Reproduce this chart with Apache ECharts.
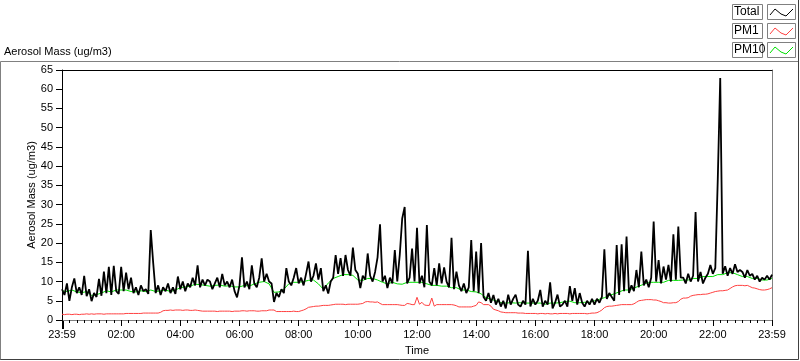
<!DOCTYPE html>
<html><head><meta charset="utf-8">
<script src="https://cdn.jsdelivr.net/npm/echarts@6/dist/echarts.min.js"></script>
<style>html,body{margin:0;padding:0;background:#fff}#c{width:800px;height:361px}</style>
</head><body><div id="c"></div>
<script>
// ---- data ----
const seriesNames = ['Total', 'PM1', 'PM10'];
const yTicks = [0,5,10,15,20,25,30,35,40,45,50,55,60,65];
const xTickLabels = ['23:59','02:00','04:00','06:00','08:00','10:00','12:00','14:00','16:00','18:00','20:00','22:00','23:59'];
const totalStepMin = 5;   // minutes between Total samples
const pm1StepMin = 5;     // minutes between PM1 samples
const pm10StepMin = 10;   // minutes between PM10 samples

const totalMass = [
 8,6.5,9.5,5,8.5,10.8,7,8.5,6.5,11.5,6.2,8,
 4.9,7,6,10.7,6.3,12.6,7,13.8,6.5,14.1,7.5,6.8,
 13.8,7.5,12.3,8,11,7,8.5,6.5,9,7.5,8,6.8,
 23.4,14.8,7,9,6.5,8.5,7.5,9.5,7,8.5,6.8,11.3,
 8,10,7.5,9.5,8.5,11,9,14.2,8.5,10.5,9,10.5,
 10,8,9.5,11,8.5,12,9,10,8.5,10.5,7.5,5.9,
 9,16.3,8.5,10,8,14.2,9.5,8.5,11,16,10,12,
 10,9.5,4.7,7,6,8,7,13.5,10,9,11,13.5,
 9.5,11,9,12,15.2,10,11.5,14.7,10.5,13.5,7.5,9,
 6.9,10,11,16.9,12,16.1,11.5,16.9,13,11.5,18.8,13,
 12,8.3,11.5,10.5,17.3,11.5,10,12.5,16.3,24.9,10,11.5,
 8.3,11,9.5,18.2,10,16.9,26.4,29.4,9.5,11,18.6,10,
 24,9.5,11.5,8.5,24.7,10,9,13.5,9,14.7,9.5,13.7,
 10,8.5,21.4,8,12.6,9,7.5,9.5,7,8.5,20.8,7.5,
 17.8,7,20,6,5,7,4.5,6.5,4,5.5,3.5,5,
 3,6.6,4,5.5,6.6,4,3.5,5,4,18,3.5,5.5,
 4,5,7.8,3.5,5,4,9.8,3,4.5,6.6,3.5,4,
 5,3.5,8.8,5,8.3,4,7,4.5,3.5,5,4,5.5,
 4,5.5,4.5,6,18.4,5.5,7,6,5,19.5,6.5,19.7,
 7.5,21.7,7,9,7.5,13,8.5,17.8,9,10.5,8.5,11,
 25.6,10,15.6,9.5,13.9,10.5,14.3,10,22.3,10.5,24.3,11,
 11,9.5,12,10,11.5,28.1,10,12.5,9.5,11,12,14.3,
 12,13.5,36.5,62.9,12,14,11.5,13.5,12,14.5,12.5,13,
 12.5,11,13,11.5,12,10.5,11.5,10,11,10.5,11.5,10.5,
 11.8
];

const pm1Mass = [
 1.5,1.4,1.5,1.5,1.4,1.5,1.5,1.4,1.5,1.5,1.6,1.5,
 1.6,1.5,1.6,1.6,1.6,1.5,1.6,1.6,1.6,1.6,1.6,1.6,
 1.6,1.6,1.7,1.7,1.7,1.7,1.7,1.7,1.7,1.8,1.8,1.8,
 1.8,1.8,1.8,1.8,2.0,2.4,2.5,2.5,2.6,2.5,2.6,2.6,
 2.6,2.5,2.6,2.6,2.5,2.5,2.6,2.5,2.4,2.3,2.3,2.3,
 2.3,2.3,2.3,2.2,2.3,2.3,2.3,2.3,2.3,2.2,2.3,2.3,
 2.3,2.4,2.4,2.3,2.4,2.4,2.4,2.3,2.3,2.4,2.4,2.4,
 2.6,2.6,2.6,2.2,2.2,2.2,2.2,2.2,2.2,2.2,2.3,2.2,
 2.2,2.4,2.6,2.9,3.3,3.4,3.5,3.6,3.6,3.7,3.8,3.8,
 3.8,3.9,4.0,4.1,4.1,4.1,4.1,4.0,4.1,4.1,4.1,4.1,
 4.1,4.2,4.3,4.7,4.8,4.7,4.7,4.6,4.7,4.3,4.0,4.0,
 4.0,4.0,4.0,4.0,4.0,3.9,3.8,3.8,4.3,4.2,4.0,4.0,
 5.9,4.1,4.6,3.9,3.8,3.8,5.7,3.6,4.0,4.0,4.0,4.0,
 4.0,4.0,4.0,3.9,3.7,3.4,3.4,3.4,3.4,3.4,3.4,3.6,
 3.8,4.7,4.5,4.0,4.0,4.0,3.6,2.8,2.6,2.4,2.1,2.0,
 1.9,1.9,1.9,1.9,1.9,1.8,1.8,1.8,1.7,1.7,1.7,1.7,
 1.7,1.6,1.7,1.7,1.6,1.7,1.6,1.6,1.7,1.6,1.7,1.7,
 1.7,1.7,1.6,1.7,1.7,1.7,1.7,1.7,1.7,1.6,1.7,1.8,
 1.8,1.9,2.2,2.6,3.2,3.5,3.6,3.6,3.7,3.8,3.9,4.0,
 4.0,4.0,4.0,4.0,4.2,4.6,5.0,5.1,5.2,5.3,5.3,5.3,
 5.2,5.2,5.0,4.8,4.5,4.5,4.4,4.4,4.5,4.5,4.8,5.4,
 5.7,5.7,5.8,6.2,6.4,6.5,6.6,6.6,6.7,6.7,6.8,7.0,
 7.2,7.4,7.5,7.6,7.6,7.7,7.8,8.2,8.6,8.9,9.0,9.0,
 9.0,8.9,9.0,8.7,8.4,8.3,8.1,7.9,7.8,7.8,7.9,8.1,
 8.4
];

const pm10Mass = [
 7.6,7.4,7.8,7.3,7.1,7.4,
 6.4,6.6,7,7.6,7.3,7.8,
 7.8,7.8,7.4,7.3,7.6,7.4,
 7.8,7.4,7.6,7.8,7.4,7.8,
 8.4,8.6,8.8,9.3,9.2,9,
 8.8,9,9.1,8.8,8.9,8.6,
 8.6,9,8.8,9.4,9.8,10,
 9.4,7.2,7.3,8,9.4,9.8,
 9.8,10,10.3,10.4,9.4,8,
 9.6,10.8,11.3,11.8,11.8,11.6,
 10.4,10.3,10.8,10.8,10.4,9.8,
 9.4,9.8,9.4,9.3,9.8,9.8,
 9.8,9.8,9.4,9,9,8.8,
 8.8,8.4,8.4,7.8,7.8,7.4,
 7.3,6.8,5.8,5.4,5,4.5,
 4.4,4.5,4.4,4.5,4.4,4.4,
 4.4,4.4,4.1,4.4,4.4,4.5,
 4.8,4.9,4.5,4.5,4.6,4.6,
 5,5.4,5.8,6.4,6.8,7.3,
 7.8,7.8,8.3,8.8,9.3,9.8,
 9.8,9.8,9.8,10.3,10.3,10.3,
 10.4,10.4,10.8,10.8,11.3,11.3,
 11.3,11.8,11.8,12.3,12.3,11.8,
 11.3,11.3,10.8,10.8,10.4,10.4,
 10.8
];

// ---- chart ----
const FONT = 'Liberation Sans';
const toPairs = (arr, step) => arr.map((v, i) => [i * step, v]);
const colors = { Total: '#000000', PM1: '#ff4040', PM10: '#00e000' };

const chart = echarts.init(document.getElementById('c'), null, { renderer: 'canvas' });

function legendRow(i, name, color) {
  const y = 4 + i * 19;
  return [
    { type: 'rect', shape: { x: 732.5, y: y + 0.5, width: 30, height: 15 },
      style: { fill: '#fff', stroke: '#808080', lineWidth: 1 } },
    { type: 'text', x: 734, y: y + 8, style: { text: name, font: '12px ' + FONT, fill: '#000', verticalAlign: 'middle' } },
    { type: 'rect', shape: { x: 767.5, y: y + 0.5, width: 28, height: 15 },
      style: { fill: '#fff', stroke: '#808080', lineWidth: 1 } },
    { type: 'polyline', shape: { points: [[770, y + 11], [775, y + 5], [781, y + 10], [786, y + 12], [793, y + 5]] },
      style: { stroke: color, lineWidth: 1, fill: null } }
  ];
}

const graphics = [
  { type: 'polyline', shape: { points: [[0.5, 360], [0.5, 61.5], [798.5, 61.5]] }, style: { stroke: '#808080', lineWidth: 1, fill: null } },
  { type: 'polyline', shape: { points: [[798.5, 0], [798.5, 359.5], [0.5, 359.5]] }, style: { stroke: '#404040', lineWidth: 1, fill: null } },
  { type: 'rect', shape: { x: 62, y: 321, width: 2, height: 8 }, style: { fill: '#000' } },
  { type: 'text', x: 4, y: 52, style: { text: 'Aerosol Mass (ug/m3)', font: '11px ' + FONT, fill: '#000', verticalAlign: 'middle' } }
].concat(legendRow(0, seriesNames[0], colors.Total), legendRow(1, seriesNames[1], colors.PM1), legendRow(2, seriesNames[2], colors.PM10));

chart.setOption({
  animation: false,
  backgroundColor: '#fff',
  textStyle: { fontFamily: FONT },
  grid: { left: 62, right: 28, top: 70, bottom: 39, containLabel: false },
  graphic: graphics,
  xAxis: [{
    type: 'value', min: 0, max: 1440, interval: 120,
    name: 'Time', nameLocation: 'middle', nameGap: 25, nameMoveOverlap: false,
    nameTextStyle: { fontSize: 11, color: '#000', fontFamily: FONT },
    axisLine: { lineStyle: { color: '#808080', width: 1 } },
    axisTick: { show: true, length: 6, lineStyle: { color: '#000' } },
    minorTick: { show: true, splitNumber: 8, length: 3, lineStyle: { color: '#000' } },
    axisLabel: { margin: 9, fontSize: 11, color: '#000', fontFamily: FONT,
      formatter: v => xTickLabels[Math.round(v / 120)] },
    splitLine: { show: false }
  }, {
    type: 'value', min: 0, max: 1440, position: 'top',
    axisLine: { show: true, onZero: false, lineStyle: { color: '#000', width: 1 } },
    axisTick: { show: false }, axisLabel: { show: false }, splitLine: { show: false }
  }],
  yAxis: [{
    type: 'value', min: yTicks[0], max: yTicks[yTicks.length - 1], interval: 5,
    name: 'Aerosol Mass (ug/m3)', nameLocation: 'middle', nameGap: 25, nameRotate: 90, nameMoveOverlap: false,
    nameTextStyle: { fontSize: 11, color: '#000', fontFamily: FONT },
    axisLine: { show: true, lineStyle: { color: '#000', width: 1 } },
    axisTick: { show: true, length: 6, lineStyle: { color: '#000' } },
    axisLabel: { margin: 9, fontSize: 11, color: '#000', fontFamily: FONT },
    splitLine: { show: false }
  }, {
    type: 'value', min: 0, max: 65, position: 'right',
    axisLine: { show: true, onZero: false, lineStyle: { color: '#808080', width: 1 } },
    axisTick: { show: false }, axisLabel: { show: false }, splitLine: { show: false }
  }],
  series: [
    { name: 'PM1', type: 'line', data: toPairs(pm1Mass, pm1StepMin), symbol: 'none',
      lineStyle: { color: colors.PM1, width: 1 }, itemStyle: { color: colors.PM1 }, z: 2 },
    { name: 'PM10', type: 'line', data: toPairs(pm10Mass, pm10StepMin), symbol: 'none',
      lineStyle: { color: colors.PM10, width: 1 }, itemStyle: { color: colors.PM10 }, z: 3 },
    { name: 'Total', type: 'line', data: toPairs(totalMass, totalStepMin), symbol: 'none',
      lineStyle: { color: colors.Total, width: 1.8 }, itemStyle: { color: colors.Total }, z: 4 }
  ]
});
</script>
</body></html>
